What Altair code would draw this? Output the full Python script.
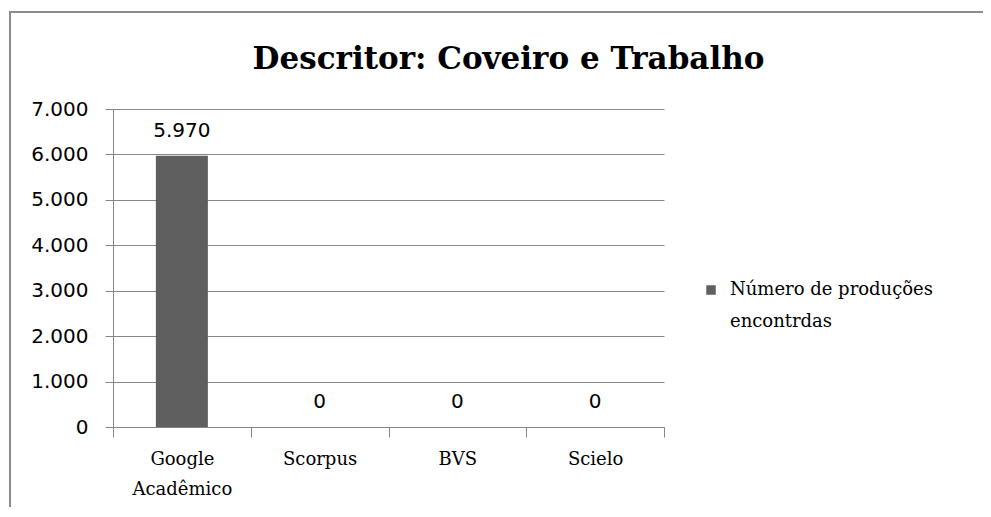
import altair as alt
import pandas as pd

categories = ["Google Acadêmico", "Scorpus", "BVS", "Scielo"]
values = [5970, 0, 0, 0]
series_name = "Número de produções encontrdas"
y_ticks = [0, 1000, 2000, 3000, 4000, 5000, 6000, 7000]

df = pd.DataFrame({"fonte": categories, "n": values, "serie": [series_name] * len(categories)})

GRAY = "#868686"
BAR = "#5f5f5f"

x_enc = alt.X(
    "fonte:N",
    sort=categories,
    scale=alt.Scale(paddingInner=0, paddingOuter=0),
    axis=alt.Axis(
        title=None,
        labelAngle=0,
        tickBand="extent",
        tickSize=10,
        tickColor=GRAY,
        domainColor=GRAY,
        labelFont="DejaVu Serif",
        labelFontSize=18,
        labelColor="#000000",
        labelPadding=13,
        labelLineHeight=30,
        labelBaseline="top",
        labelExpr="split(datum.label, ' ')",
        grid=False,
    ),
)

y_enc = alt.Y(
    "n:Q",
    scale=alt.Scale(domain=[0, 7000]),
    axis=alt.Axis(
        title=None,
        values=y_ticks,
        grid=True,
        gridColor=GRAY,
        tickColor=GRAY,
        tickSize=8,
        domainColor=GRAY,
        labelFont="DejaVu Sans",
        labelFontSize=20,
        labelColor="#000000",
        labelPadding=17,
        labelExpr="replace(format(datum.value, ','), ',', '.')",
    ),
)

bars = alt.Chart(df).mark_bar(size=52).encode(
    x=x_enc,
    y=y_enc,
    color=alt.Color(
        "serie:N",
        scale=alt.Scale(range=[BAR]),
        legend=alt.Legend(
            title=None,
            orient="none",
            legendX=589,
            legendY=172,
            symbolType="square",
            symbolSize=90,
            symbolStrokeWidth=0,
            labelFont="DejaVu Serif",
            labelFontSize=18,
            labelColor="#000000",
            labelLimit=400,
            labelOffset=10,
            labelExpr="['Número de produções', 'encontrdas']",
        ),
    ),
)

labels = alt.Chart(df).transform_calculate(
    txt="replace(format(datum.n, ','), ',', '.')"
).mark_text(
    font="DejaVu Sans", fontSize=20, color="#000000", baseline="middle", dy=-25
).encode(
    x=alt.X("fonte:N", sort=categories),
    y="n:Q",
    text="txt:N",
)

frame = alt.Chart(pd.DataFrame({"a": [0]})).mark_rect(
    fill=None, stroke="#8c8c8c", strokeWidth=2
).encode(
    x=alt.value(-103), x2=alt.value(1000), y=alt.value(-97), y2=alt.value(700)
)

chart = alt.layer(frame, bars, labels).properties(
    width=551,
    height=318,
    autosize=alt.AutoSizeParams(type="none"),
    padding={"left": 105, "top": 101, "right": 319, "bottom": 80},
    title=alt.TitleParams(
        text="Descritor: Coveiro e Trabalho",
        font="DejaVu Serif",
        fontSize=31,
        fontWeight="bold",
        color="#000000",
        anchor="middle",
        frame="group",
        dx=120,
        offset=-65,
    ),
).configure(
    background="#ffffff",
    style={"guide-label": {"lineHeight": 32}},
).configure_view(stroke=None)

chart.save("out.html", embed_options={"renderer": "svg", "actions": False})
